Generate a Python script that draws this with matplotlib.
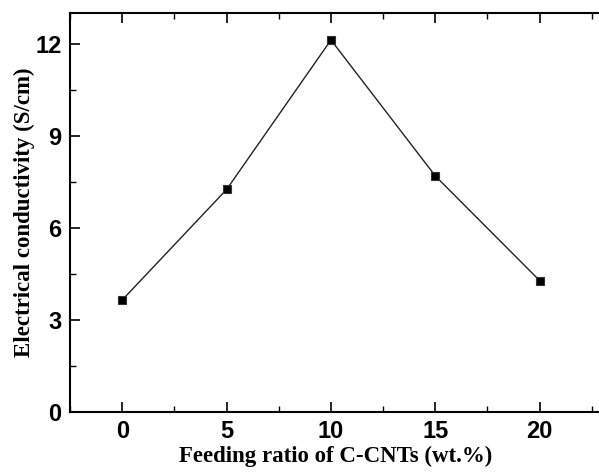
import matplotlib.pyplot as plt
import numpy as np
from matplotlib.ticker import MultipleLocator

feeding_ratio = np.array([0, 5, 10, 15, 20])
conductivity = np.array([3.65, 7.25, 12.12, 7.69, 4.28])

fig = plt.figure(figsize=(5.99, 4.73), dpi=100)
ax = fig.add_axes([0.117, 0.129, 0.885, 0.8436])

ax.plot(feeding_ratio, conductivity, color='#222222', lw=1.0,
        marker='s', ms=6, mfc='black', mec='#333333', mew=0.8)

ax.set_xlim(-2.5, 22.9)
ax.set_ylim(0, 13)
ax.xaxis.set_major_locator(MultipleLocator(5))
ax.xaxis.set_minor_locator(MultipleLocator(2.5))
ax.yaxis.set_major_locator(MultipleLocator(3))
ax.yaxis.set_minor_locator(MultipleLocator(1.5))

ax.tick_params(which='major', direction='in', length=7, width=1.2, top=True)
ax.tick_params(which='minor', direction='in', length=4, width=1.0, top=True)
ax.tick_params(axis='x', which='both', top=True, labeltop=False)
ax.tick_params(labelsize=17, pad=6)
for lab in ax.get_xticklabels() + ax.get_yticklabels():
    lab.set_fontfamily('Liberation Sans')
    lab.set_fontweight('bold')

for side in ['left', 'bottom', 'top']:
    ax.spines[side].set_linewidth(1.5)
ax.spines['right'].set_visible(False)

ax.set_xlabel('Feeding ratio of C-CNTs (wt.%)', fontsize=16.5, fontweight='bold',
              family='Liberation Serif', labelpad=2)
ax.set_ylabel('Electrical conductivity (S/cm)', fontsize=16.5, fontweight='bold',
              family='Liberation Serif', labelpad=0)

fig.savefig('out.png', dpi=100)
